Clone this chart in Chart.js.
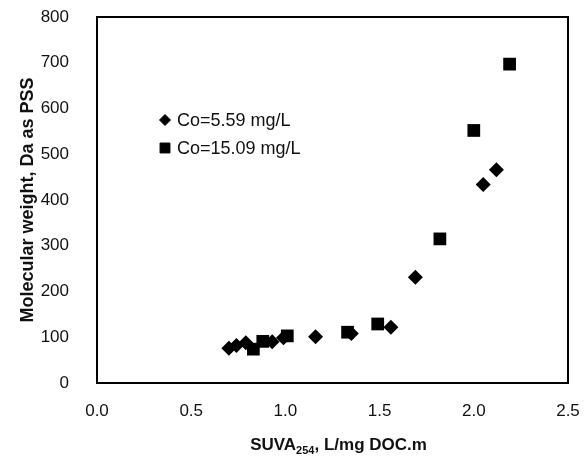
<!DOCTYPE html>
<html><head><meta charset="utf-8">
<script src="https://cdn.jsdelivr.net/npm/chart.js@4/dist/chart.umd.min.js"></script>
<style>html,body{margin:0;padding:0;background:#fff}#wrap{width:585px;height:457px;position:relative}</style>
</head><body><div id="wrap"><canvas id="c" width="585" height="457"></canvas></div>
<script>
// ---- data ----
const seriesALabel = 'Co=5.59 mg/L';
const seriesAX = [0.70, 0.74, 0.79, 0.93, 0.99, 1.16, 1.35, 1.56, 1.69, 2.05, 2.12];
const seriesAY = [76, 82, 88, 90, 99, 101, 108, 122, 231, 434, 466];
const seriesBLabel = 'Co=15.09 mg/L';
const seriesBX = [0.83, 0.88, 1.01, 1.33, 1.49, 1.82, 2.00, 2.19];
const seriesBY = [74, 91, 103, 111, 129, 315, 552, 697];
const xTickValues = [0, 0.5, 1.0, 1.5, 2.0, 2.5];
const yTickValues = [0, 100, 200, 300, 400, 500, 600, 700, 800];
const xTitleMain = 'SUVA';
const xTitleSub = '254';
const xTitleRest = ', L/mg DOC.m';
const yTitle = 'Molecular weight, Da as PSS';

const FONT = 'Arial, "Liberation Sans", Helvetica, sans-serif';
const toPts = (xs, ys) => xs.map((x, i) => ({x: x, y: ys[i]}));

const framePlugin = {
  id: 'frame',
  afterDatasetsDraw(chart) {
    const {ctx, chartArea: a} = chart;
    ctx.save();
    ctx.strokeStyle = '#000';
    ctx.lineWidth = 2;
    ctx.strokeRect(a.left, a.top, a.right - a.left, a.bottom - a.top);
    ctx.restore();
  }
};

const legendPlugin = {
  id: 'insideLegend',
  afterDraw(chart) {
    const {ctx, chartArea: a} = chart;
    const x0 = a.left + 68, y0 = a.top + 103, gap = 28;
    ctx.save();
    chart.data.datasets.forEach((ds, i) => {
      const y = y0 + i * gap;
      ctx.fillStyle = '#000';
      ctx.strokeStyle = '#000';
      Chart.helpers.drawPoint(ctx, {
        pointStyle: ds.pointStyle,
        radius: ds.pointStyle === 'rect' ? 7 : 5.5,
        rotation: 0,
        borderWidth: 1
      }, x0, y);
      ctx.fillStyle = '#111';
      ctx.font = '18px ' + FONT;
      ctx.textAlign = 'left';
      ctx.textBaseline = 'middle';
      ctx.fillText(ds.label, x0 + 12, y + 1);
    });
    ctx.restore();
  }
};

const xTitlePlugin = {
  id: 'xTitle',
  afterDraw(chart) {
    const {ctx, chartArea: a} = chart;
    const cx = (a.left + a.right) / 2 + 6;
    const y = 444;
    ctx.save();
    ctx.fillStyle = '#111';
    ctx.textBaseline = 'alphabetic';
    const big = 'bold 17px ' + FONT, small = 'bold 11px ' + FONT;
    ctx.font = big; const w1 = ctx.measureText(xTitleMain).width; const w3 = ctx.measureText(xTitleRest).width;
    ctx.font = small; const w2 = ctx.measureText(xTitleSub).width;
    let x = cx - (w1 + w2 + w3) / 2;
    const base = y + 6;
    ctx.textAlign = 'left';
    ctx.font = big; ctx.fillText(xTitleMain, x, base); x += w1;
    ctx.font = small; ctx.fillText(xTitleSub, x, base + 4); x += w2;
    ctx.font = big; ctx.fillText(xTitleRest, x, base);
    ctx.restore();
  }
};

new Chart(document.getElementById('c'), {
  type: 'scatter',
  data: {
    datasets: [
      {label: seriesALabel, data: toPts(seriesAX, seriesAY), pointStyle: 'rectRot',
       pointRadius: 7.5, pointHoverRadius: 7.5, backgroundColor: '#000', borderColor: '#000', borderWidth: 0},
      {label: seriesBLabel, data: toPts(seriesBX, seriesBY), pointStyle: 'rect',
       pointRadius: 9, pointHoverRadius: 9, backgroundColor: '#000', borderColor: '#000', borderWidth: 0}
    ]
  },
  options: {
    responsive: false,
    animation: false,
    devicePixelRatio: 1,
    layout: {padding: {top: 17, right: 17, left: 0, bottom: 0}},
    plugins: {legend: {display: false}, tooltip: {enabled: false}},
    scales: {
      x: {
        type: 'linear', min: 0, max: 2.5,
        afterBuildTicks: s => { s.ticks = xTickValues.map(v => ({value: v})); },
        afterFit: s => { s.height = 74; s.paddingLeft = 0; s.paddingRight = 0; s.paddingTop = 0; s.paddingBottom = 0; },
        grid: {display: false},
        border: {display: true, color: '#000', width: 2},
        ticks: {color: '#111', font: {size: 17, family: FONT}, padding: 10,
                callback: v => Number(v).toFixed(1), maxRotation: 0},
        title: {display: false}
      },
      y: {
        type: 'linear', min: 0, max: 800,
        afterBuildTicks: s => { s.ticks = yTickValues.map(v => ({value: v})); },
        afterFit: s => { s.width = 97; s.paddingLeft = 0; s.paddingRight = 0; s.paddingTop = 0; s.paddingBottom = 0; },
        grid: {display: false},
        border: {display: true, color: '#000', width: 2},
        ticks: {color: '#111', font: {size: 17, family: FONT}, padding: 20},
        title: {display: true, text: yTitle, color: '#111',
                font: {size: 18, weight: 'bold', family: FONT}, padding: {top: 17, bottom: 0}}
      }
    }
  },
  plugins: [framePlugin, legendPlugin, xTitlePlugin]
});
</script>
</body></html>
